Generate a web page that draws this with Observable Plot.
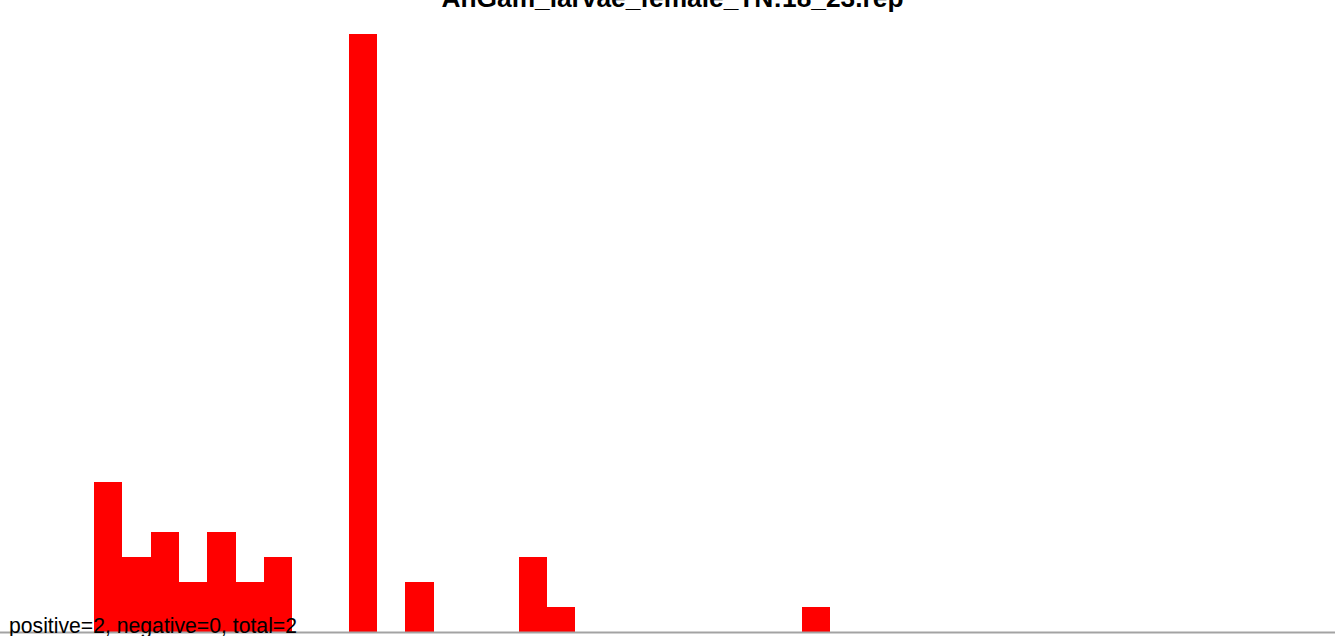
<!DOCTYPE html>
<html>
<head>
<meta charset="utf-8">
<script src="https://cdn.jsdelivr.net/npm/d3@7"></script>
<script src="https://cdn.jsdelivr.net/npm/@observablehq/plot@0.6"></script>
<style>
  html, body { margin: 0; padding: 0; background: #fff; overflow: hidden; }
  #wrap { position: relative; width: 1335px; height: 636px; }
  #title {
    position: absolute; left: 5px; top: -15px; width: 1335px;
    text-align: center; font: bold 26.3px "Liberation Sans", Arial, sans-serif;
    line-height: 26px; color: #000; white-space: nowrap; z-index: 2;
  }
  #chart { position: absolute; left: 0; top: 0; }
</style>
</head>
<body>
<div id="wrap">
  <div id="title"></div>
  <div id="chart"></div>
</div>
<script>
const titleText = "AnGam_larvae_female_TN:18_23.rep";
const captionText = "positive=2, negative=0, total=2";
const bins   = [0,1,2,3,4,5,6,7,8,9,10,11,12,13,14,15,16,17,18,19,20,21,22,23,24,25];
const counts = [6,3,4,2,4,2,3,0,0,24,0,2,0,0,0,3,1,0,0,0,0,0,0,0,0,1];

const data = bins.map((b, i) => ({x1: b, x2: b + 1, y: counts[i]})).filter(d => d.y > 0);

document.getElementById("title").textContent = titleText;

const W = 1335, H = 636;
const binPx = 28.3, x0px = 94;
const unit = 24.9, y0px = 631.5;

const chart = Plot.plot({
  width: W, height: H,
  marginTop: 0, marginBottom: 0, marginLeft: 0, marginRight: 0,
  style: {background: "transparent", overflow: "visible"},
  x: {domain: [-x0px / binPx, (W - x0px) / binPx], range: [0, W], axis: null},
  y: {domain: [-(H - y0px) / unit, y0px / unit], range: [H, 0], axis: null},
  marks: [
    Plot.rectY(data, {x1: "x1", x2: "x2", y1: 0, y2: "y", fill: "#ff0000", shapeRendering: "crispEdges"}),
    Plot.ruleY([0], {stroke: "#a3a3a3", strokeWidth: 2, dy: 0.5}),
    Plot.text([captionText], {
      text: d => d, frameAnchor: "bottom-left", textAnchor: "start", lineAnchor: "bottom",
      dx: 8.5, dy: -4, fontSize: 21.2, fontFamily: "Liberation Sans, Arial, sans-serif", fill: "#000"
    })
  ]
});
document.getElementById("chart").appendChild(chart);
</script>
</body>
</html>
